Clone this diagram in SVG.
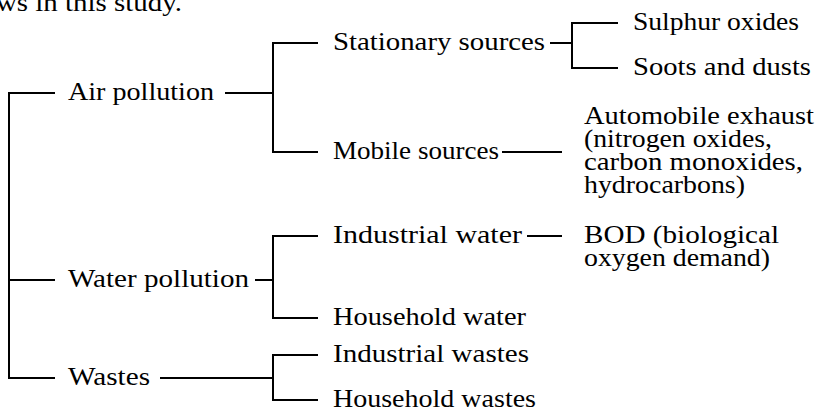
<svg xmlns="http://www.w3.org/2000/svg" width="820" height="414" viewBox="0 0 820 414">
<style>
.c { fill: none; stroke: #000; stroke-width: 2; }
</style>
<rect width="820" height="414" fill="#fff"/>
<text x="-4" y="11" font-family="Liberation Serif" font-size="26" style="font-family:'Liberation Serif',serif" textLength="186" lengthAdjust="spacingAndGlyphs">ws in this study.</text>
<g id="connectors">
  <path class="c" d="M55,93 H9 V378 H55 M9,280 H55"/>
  <path class="c" d="M225,93 H273 M318,43 H273 V152 H318"/>
  <path class="c" d="M550,43 H572 M618,23 H572 V68 H618"/>
  <path class="c" d="M502,152 H562"/>
  <path class="c" d="M255,280 H273 M318,236 H273 V318 H318"/>
  <path class="c" d="M527,236 H562"/>
  <path class="c" d="M160,378 H273 M318,355 H273 V400 H318"/>
</g>
<g id="air"><text x="68" y="100" font-family="Liberation Serif" font-size="26" style="font-family:'Liberation Serif',serif" textLength="146" lengthAdjust="spacingAndGlyphs">Air pollution</text></g>
<g id="stationary"><text x="333" y="50" font-family="Liberation Serif" font-size="26" style="font-family:'Liberation Serif',serif" textLength="212" lengthAdjust="spacingAndGlyphs">Stationary sources</text></g>
<g id="sulphur"><text x="633" y="30" font-family="Liberation Serif" font-size="26" style="font-family:'Liberation Serif',serif" textLength="166" lengthAdjust="spacingAndGlyphs">Sulphur oxides</text></g>
<g id="soots"><text x="633" y="75" font-family="Liberation Serif" font-size="26" style="font-family:'Liberation Serif',serif" textLength="178" lengthAdjust="spacingAndGlyphs">Soots and dusts</text></g>
<g id="mobile"><text x="333" y="159" font-family="Liberation Serif" font-size="26" style="font-family:'Liberation Serif',serif" textLength="166" lengthAdjust="spacingAndGlyphs">Mobile sources</text></g>
<g id="automobile">
  <text x="584" y="124" font-family="Liberation Serif" font-size="26" style="font-family:'Liberation Serif',serif" textLength="230" lengthAdjust="spacingAndGlyphs">Automobile exhaust</text>
  <text x="584" y="147" font-family="Liberation Serif" font-size="26" style="font-family:'Liberation Serif',serif" textLength="188" lengthAdjust="spacingAndGlyphs">(nitrogen oxides,</text>
  <text x="584" y="170" font-family="Liberation Serif" font-size="26" style="font-family:'Liberation Serif',serif" textLength="219" lengthAdjust="spacingAndGlyphs">carbon monoxides,</text>
  <text x="584" y="193" font-family="Liberation Serif" font-size="26" style="font-family:'Liberation Serif',serif" textLength="161" lengthAdjust="spacingAndGlyphs">hydrocarbons)</text>
</g>
<g id="water"><text x="68" y="287" font-family="Liberation Serif" font-size="26" style="font-family:'Liberation Serif',serif" textLength="181" lengthAdjust="spacingAndGlyphs">Water pollution</text></g>
<g id="industrial-water"><text x="333" y="243" font-family="Liberation Serif" font-size="26" style="font-family:'Liberation Serif',serif" textLength="189" lengthAdjust="spacingAndGlyphs">Industrial water</text></g>
<g id="bod">
  <text x="584" y="243" font-family="Liberation Serif" font-size="26" style="font-family:'Liberation Serif',serif" textLength="195" lengthAdjust="spacingAndGlyphs">BOD (biological</text>
  <text x="584" y="266" font-family="Liberation Serif" font-size="26" style="font-family:'Liberation Serif',serif" textLength="186" lengthAdjust="spacingAndGlyphs">oxygen demand)</text>
</g>
<g id="household-water"><text x="333" y="325" font-family="Liberation Serif" font-size="26" style="font-family:'Liberation Serif',serif" textLength="193" lengthAdjust="spacingAndGlyphs">Household water</text></g>
<g id="wastes"><text x="68" y="385" font-family="Liberation Serif" font-size="26" style="font-family:'Liberation Serif',serif" textLength="82" lengthAdjust="spacingAndGlyphs">Wastes</text></g>
<g id="industrial-wastes"><text x="333" y="362" font-family="Liberation Serif" font-size="26" style="font-family:'Liberation Serif',serif" textLength="196" lengthAdjust="spacingAndGlyphs">Industrial wastes</text></g>
<g id="household-wastes"><text x="333" y="407" font-family="Liberation Serif" font-size="26" style="font-family:'Liberation Serif',serif" textLength="203" lengthAdjust="spacingAndGlyphs">Household wastes</text></g>
</svg>
